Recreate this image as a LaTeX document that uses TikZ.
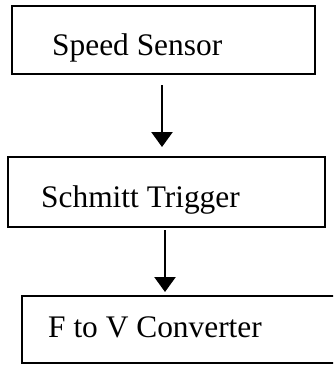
\documentclass[tikz,border=0pt]{standalone}
\usepackage{fontspec}
\setmainfont{Liberation Serif}
\usetikzlibrary{arrows.meta}
\begin{document}
\begin{tikzpicture}[x=1pt,y=-1pt,
  box/.style={draw=black,line width=2.4pt,rectangle,inner sep=0pt,outer sep=0pt},
  lbl/.style={anchor=base west,inner sep=0pt,font=\fontsize{31.4}{36}\selectfont},
  arr/.style={line width=2.6pt,-{Triangle[width=21pt,length=15pt]}}]
\useasboundingbox (0,0) rectangle (333,365);
\clip (0,0) rectangle (333,365);
\node[box,minimum width=303pt,minimum height=68pt] (b1) at (163.5,40) {};
\node[box,minimum width=317pt,minimum height=70pt] (b2) at (166.5,192) {};
\node[box,minimum width=333pt,minimum height=67pt] (b3) at (188.5,329.5) {};
\node[lbl] (t1) at (52,55) {Speed Sensor};
\node[lbl] (t2) at (41,207) {Schmitt Trigger};
\node[lbl] (t3) at (48,337) {F to V Converter};
\draw[arr] ([xshift=-1.5pt,yshift=-11pt]b1.south) -- ([xshift=-4.5pt,yshift=10pt]b2.north);
\draw[arr] ([xshift=-1.5pt,yshift=-3pt]b2.south) -- ([xshift=-23.5pt,yshift=4pt]b3.north);
\end{tikzpicture}
\end{document}
